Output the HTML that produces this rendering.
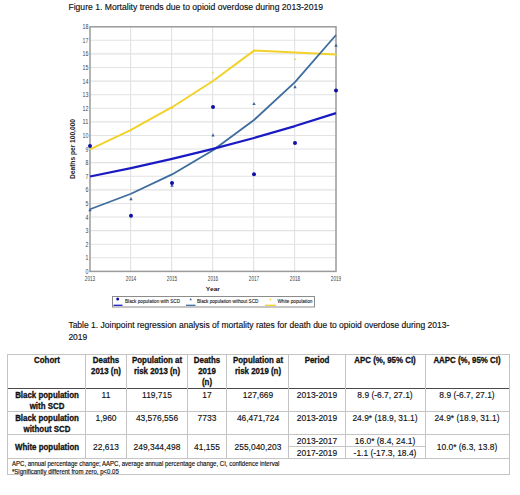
<!DOCTYPE html>
<html><head><meta charset="utf-8"><style>
html,body{margin:0;padding:0;background:#fff;}
body{width:520px;height:495px;position:relative;overflow:hidden;font-family:"Liberation Sans",sans-serif;color:#111;-webkit-text-stroke:0.15px #111;}
svg{position:absolute;left:0;top:0;}
svg text{font-family:"Liberation Sans",sans-serif;}
.tk{font-size:7px;fill:#444;}
.ax{font-size:6.1px;font-weight:bold;fill:#222;}
.ax2{font-size:6.3px;font-weight:bold;fill:#222;}
.lg{font-size:5.8px;fill:#222;stroke:#222;stroke-width:0.12px;}
.cap{position:absolute;font-size:8.5px;white-space:nowrap;line-height:11.7px;}
.b{position:absolute;}
.t{position:absolute;width:120px;text-align:center;line-height:12px;height:12px;white-space:nowrap;font-size:8.9px;transform:scaleX(0.95);}
.bd{font-weight:bold;font-size:8.5px;-webkit-text-stroke:0.3px #111;transform:scaleX(0.93);}
.ft{position:absolute;left:12.2px;font-size:6.7px;white-space:nowrap;line-height:8px;transform:scaleX(0.9);transform-origin:0 50%;}
</style></head><body>
<div class="cap" style="left:68.4px;top:2.0px;font-size:8.62px">Figure 1. Mortality trends due to opioid overdose during 2013-2019</div>
<svg width="520" height="312" viewBox="0 0 520 312">
<line x1="90" y1="257.81" x2="336" y2="257.81" stroke="#e2e2e2" stroke-width="1.1"/>
<line x1="90" y1="244.21" x2="336" y2="244.21" stroke="#e2e2e2" stroke-width="1.1"/>
<line x1="90" y1="230.62" x2="336" y2="230.62" stroke="#e2e2e2" stroke-width="1.1"/>
<line x1="90" y1="217.02" x2="336" y2="217.02" stroke="#e2e2e2" stroke-width="1.1"/>
<line x1="90" y1="203.43" x2="336" y2="203.43" stroke="#e2e2e2" stroke-width="1.1"/>
<line x1="90" y1="189.84" x2="336" y2="189.84" stroke="#e2e2e2" stroke-width="1.1"/>
<line x1="90" y1="176.24" x2="336" y2="176.24" stroke="#e2e2e2" stroke-width="1.1"/>
<line x1="90" y1="162.65" x2="336" y2="162.65" stroke="#e2e2e2" stroke-width="1.1"/>
<line x1="90" y1="149.05" x2="336" y2="149.05" stroke="#e2e2e2" stroke-width="1.1"/>
<line x1="90" y1="135.46" x2="336" y2="135.46" stroke="#e2e2e2" stroke-width="1.1"/>
<line x1="90" y1="121.87" x2="336" y2="121.87" stroke="#e2e2e2" stroke-width="1.1"/>
<line x1="90" y1="108.27" x2="336" y2="108.27" stroke="#e2e2e2" stroke-width="1.1"/>
<line x1="90" y1="94.68" x2="336" y2="94.68" stroke="#e2e2e2" stroke-width="1.1"/>
<line x1="90" y1="81.08" x2="336" y2="81.08" stroke="#e2e2e2" stroke-width="1.1"/>
<line x1="90" y1="67.49" x2="336" y2="67.49" stroke="#e2e2e2" stroke-width="1.1"/>
<line x1="90" y1="53.90" x2="336" y2="53.90" stroke="#e2e2e2" stroke-width="1.1"/>
<line x1="90" y1="40.30" x2="336" y2="40.30" stroke="#e2e2e2" stroke-width="1.1"/>
<line x1="130.6" y1="26.5" x2="130.6" y2="271" stroke="#e2e2e2" stroke-width="1.1"/>
<line x1="171.6" y1="26.5" x2="171.6" y2="271" stroke="#e2e2e2" stroke-width="1.1"/>
<line x1="212.6" y1="26.5" x2="212.6" y2="271" stroke="#e2e2e2" stroke-width="1.1"/>
<line x1="253.6" y1="26.5" x2="253.6" y2="271" stroke="#e2e2e2" stroke-width="1.1"/>
<line x1="294.6" y1="26.5" x2="294.6" y2="271" stroke="#e2e2e2" stroke-width="1.1"/>
<rect x="90" y="26.8" width="246" height="244.6" fill="none" stroke="#9a9a9a" stroke-width="1.5"/>
<text x="85.6" y="273.9" textLength="2.9" lengthAdjust="spacingAndGlyphs" class="tk">0</text>
<text x="85.6" y="260.3" textLength="2.9" lengthAdjust="spacingAndGlyphs" class="tk">1</text>
<text x="85.6" y="246.7" textLength="2.9" lengthAdjust="spacingAndGlyphs" class="tk">2</text>
<text x="85.6" y="233.1" textLength="2.9" lengthAdjust="spacingAndGlyphs" class="tk">3</text>
<text x="85.6" y="219.5" textLength="2.9" lengthAdjust="spacingAndGlyphs" class="tk">4</text>
<text x="85.6" y="205.9" textLength="2.9" lengthAdjust="spacingAndGlyphs" class="tk">5</text>
<text x="85.6" y="192.3" textLength="2.9" lengthAdjust="spacingAndGlyphs" class="tk">6</text>
<text x="85.6" y="178.7" textLength="2.9" lengthAdjust="spacingAndGlyphs" class="tk">7</text>
<text x="85.6" y="165.1" textLength="2.9" lengthAdjust="spacingAndGlyphs" class="tk">8</text>
<text x="85.6" y="151.6" textLength="2.9" lengthAdjust="spacingAndGlyphs" class="tk">9</text>
<text x="82.6" y="138.0" textLength="5.9" lengthAdjust="spacingAndGlyphs" class="tk">10</text>
<text x="82.6" y="124.4" textLength="5.9" lengthAdjust="spacingAndGlyphs" class="tk">11</text>
<text x="82.6" y="110.8" textLength="5.9" lengthAdjust="spacingAndGlyphs" class="tk">12</text>
<text x="82.6" y="97.2" textLength="5.9" lengthAdjust="spacingAndGlyphs" class="tk">13</text>
<text x="82.6" y="83.6" textLength="5.9" lengthAdjust="spacingAndGlyphs" class="tk">14</text>
<text x="82.6" y="70.0" textLength="5.9" lengthAdjust="spacingAndGlyphs" class="tk">15</text>
<text x="82.6" y="56.4" textLength="5.9" lengthAdjust="spacingAndGlyphs" class="tk">16</text>
<text x="82.6" y="42.8" textLength="5.9" lengthAdjust="spacingAndGlyphs" class="tk">17</text>
<text x="82.6" y="29.2" textLength="5.9" lengthAdjust="spacingAndGlyphs" class="tk">18</text>
<text x="84.8" y="281" textLength="10.4" lengthAdjust="spacingAndGlyphs" class="tk">2013</text>
<text x="125.8" y="281" textLength="10.4" lengthAdjust="spacingAndGlyphs" class="tk">2014</text>
<text x="166.8" y="281" textLength="10.4" lengthAdjust="spacingAndGlyphs" class="tk">2015</text>
<text x="207.8" y="281" textLength="10.4" lengthAdjust="spacingAndGlyphs" class="tk">2016</text>
<text x="248.8" y="281" textLength="10.4" lengthAdjust="spacingAndGlyphs" class="tk">2017</text>
<text x="289.8" y="281" textLength="10.4" lengthAdjust="spacingAndGlyphs" class="tk">2018</text>
<text x="330.8" y="281" textLength="10.4" lengthAdjust="spacingAndGlyphs" class="tk">2019</text>
<path d="M90,147.45 L91.17,149.66 L88.83,149.66 Z" fill="#d6d84a"/>
<path d="M131,129.10 L132.17,131.31 L129.83,131.31 Z" fill="#d6d84a"/>
<path d="M172,106.67 L173.17,108.88 L170.83,108.88 Z" fill="#d6d84a"/>
<path d="M213,71.33 L214.17,73.54 L211.83,73.54 Z" fill="#d6d84a"/>
<path d="M254,49.58 L255.17,51.79 L252.83,51.79 Z" fill="#d6d84a"/>
<path d="M295,57.73 L296.17,59.94 L293.83,59.94 Z" fill="#d6d84a"/>
<path d="M336,53.66 L337.17,55.87 L334.83,55.87 Z" fill="#d6d84a"/>
<path d="M90,207.93 L91.71,211.16 L88.29,211.16 Z" fill="#41649a"/>
<path d="M131,197.05 L132.71,200.28 L129.29,200.28 Z" fill="#41649a"/>
<path d="M172,183.46 L173.71,186.69 L170.29,186.69 Z" fill="#41649a"/>
<path d="M213,133.16 L214.71,136.39 L211.29,136.39 Z" fill="#41649a"/>
<path d="M254,101.89 L255.71,105.12 L252.29,105.12 Z" fill="#41649a"/>
<path d="M295,84.90 L296.71,88.13 L293.29,88.13 Z" fill="#41649a"/>
<path d="M336,43.44 L337.71,46.67 L334.29,46.67 Z" fill="#41649a"/>
<path d="M90,149.33 L131,129.83 L172,107.22 L213,81.00 L254,50.60 L295,52.50 L336,54.38" fill="none" stroke="#f2d22a" stroke-width="2.0" stroke-linejoin="round"/>
<path d="M90,209.28 L131,193.78 L172,174.41 L213,150.21 L254,119.97 L295,82.19 L336,34.98" fill="none" stroke="#3d6c9e" stroke-width="1.8" stroke-linejoin="round"/>
<path d="M90,176.51 L131,168.07 L172,158.87 L213,148.86 L254,137.95 L295,126.07 L336,113.14" fill="none" stroke="#1a1ac2" stroke-width="2.2" stroke-linejoin="round"/>
<circle cx="90" cy="146.06" r="2.0" fill="#1010a8"/>
<circle cx="131" cy="215.66" r="2.0" fill="#1010a8"/>
<circle cx="172" cy="183.04" r="2.0" fill="#1010a8"/>
<circle cx="213" cy="106.91" r="2.0" fill="#1010a8"/>
<circle cx="254" cy="174.20" r="2.0" fill="#1010a8"/>
<circle cx="295" cy="142.94" r="2.0" fill="#1010a8"/>
<circle cx="336" cy="90.60" r="2.0" fill="#1010a8"/>
<text x="205.8" y="290.6" textLength="14.2" lengthAdjust="spacingAndGlyphs" class="ax">Year</text>
<text transform="translate(75.2,149) rotate(-90)" textLength="60" lengthAdjust="spacingAndGlyphs" x="-30" class="ax2">Deaths per 100,000</text>
<rect x="112.5" y="296.5" width="202" height="10.5" fill="#fff" stroke="#8c8c8c" stroke-width="1"/>
<circle cx="117.7" cy="299" r="1.5" fill="#1010a8"/><line x1="113.5" y1="305.3" x2="122.5" y2="305.3" stroke="#1c1cc4" stroke-width="1.3"/>
<text x="125" y="303.3" textLength="55" lengthAdjust="spacingAndGlyphs" class="lg">Black population with SCD</text>
<path d="M190.7,297.90 L191.96,300.28 L189.44,300.28 Z" fill="#41649a"/>
<line x1="186" y1="305.3" x2="195.5" y2="305.3" stroke="#3f6fa5" stroke-width="1.3"/>
<text x="197" y="303.3" textLength="61.4" lengthAdjust="spacingAndGlyphs" class="lg">Black population without SCD</text>
<path d="M270.4,298.10 L271.48,300.14 L269.32,300.14 Z" fill="#f2d33a"/>
<line x1="265" y1="305.3" x2="276" y2="305.3" stroke="#f0d02c" stroke-width="1.3"/>
<text x="277.4" y="303.3" textLength="35" lengthAdjust="spacingAndGlyphs" class="lg">White population</text>
</svg>
<div class="cap" style="left:68.4px;top:319.8px">Table 1. Joinpoint regression analysis of mortality rates for death due to opioid overdose during 2013-<br>2019</div>
<div class="b" style="left:7px;top:354px;width:503px;height:1px;background:#c4c4c4"></div><div class="b" style="left:7.5px;top:387.90000000000003px;width:502.1px;height:1.4px;background:#4a4a4a"></div><div class="b" style="left:7px;top:411px;width:503px;height:1px;background:#c4c4c4"></div><div class="b" style="left:7px;top:434px;width:503px;height:1px;background:#c4c4c4"></div><div class="b" style="left:7px;top:458px;width:503px;height:1px;background:#c4c4c4"></div><div class="b" style="left:7px;top:474px;width:503px;height:1px;background:#c4c4c4"></div><div class="b" style="left:288px;top:446px;width:138px;height:1px;background:#c4c4c4"></div><div class="b" style="left:7px;top:354px;width:1px;height:120px;background:#c4c4c4"></div><div class="b" style="left:85px;top:354px;width:1px;height:104px;background:#c4c4c4"></div><div class="b" style="left:126px;top:354px;width:1px;height:104px;background:#c4c4c4"></div><div class="b" style="left:187px;top:354px;width:1px;height:104px;background:#c4c4c4"></div><div class="b" style="left:226px;top:354px;width:1px;height:104px;background:#c4c4c4"></div><div class="b" style="left:288px;top:354px;width:1px;height:104px;background:#c4c4c4"></div><div class="b" style="left:345px;top:354px;width:1px;height:104px;background:#c4c4c4"></div><div class="b" style="left:425px;top:354px;width:1px;height:104px;background:#c4c4c4"></div><div class="b" style="left:509px;top:354px;width:1px;height:120px;background:#c4c4c4"></div>
<div class="t bd" style="left:-13.5px;top:354.2px">Cohort</div><div class="t bd" style="left:45.75px;top:354.2px">Deaths</div><div class="t bd" style="left:45.75px;top:365.3px">2013 (n)</div><div class="t bd" style="left:96.69999999999999px;top:354.2px">Population at</div><div class="t bd" style="left:96.69999999999999px;top:365.3px">risk 2013 (n)</div><div class="t bd" style="left:147.2px;top:354.2px">Deaths</div><div class="t bd" style="left:147.2px;top:365.3px">2019</div><div class="t bd" style="left:147.2px;top:376.4px">(n)</div><div class="t bd" style="left:197.75px;top:354.2px">Population at</div><div class="t bd" style="left:197.75px;top:365.3px">risk 2019 (n)</div><div class="t bd" style="left:256.95px;top:354.2px">Period</div><div class="t bd" style="left:325.25px;top:354.2px">APC (%, 95% CI)</div><div class="t bd" style="left:407.35px;top:354.2px">AAPC (%, 95% CI)</div><div class="t bd" style="left:-13.5px;top:389.2px">Black population</div><div class="t bd" style="left:-13.5px;top:400.4px">with SCD</div><div class="t bd" style="left:-13.5px;top:412.1px">Black population</div><div class="t bd" style="left:-13.5px;top:423.3px">without SCD</div><div class="t bd" style="left:-13.5px;top:440.8px">White population</div><div class="t r" style="left:45.75px;top:389.3px">11</div><div class="t r" style="left:96.69999999999999px;top:389.3px">119,715</div><div class="t r" style="left:147.2px;top:389.3px">17</div><div class="t r" style="left:197.75px;top:389.3px">127,669</div><div class="t r" style="left:256.95px;top:389.3px">2013-2019</div><div class="t r" style="left:325.25px;top:389.3px">8.9 (-6.7, 27.1)</div><div class="t r" style="left:407.35px;top:389.3px">8.9 (-6.7, 27.1)</div><div class="t r" style="left:45.75px;top:412.0px">1,960</div><div class="t r" style="left:96.69999999999999px;top:412.0px">43,576,556</div><div class="t r" style="left:147.2px;top:412.0px">7733</div><div class="t r" style="left:197.75px;top:412.0px">46,471,724</div><div class="t r" style="left:256.95px;top:412.0px">2013-2019</div><div class="t r" style="left:325.25px;top:412.0px">24.9* (18.9, 31.1)</div><div class="t r" style="left:407.35px;top:412.0px">24.9* (18.9, 31.1)</div><div class="t r" style="left:45.75px;top:441.0px">22,613</div><div class="t r" style="left:96.69999999999999px;top:441.0px">249,344,498</div><div class="t r" style="left:147.2px;top:441.0px">41,155</div><div class="t r" style="left:197.75px;top:441.0px">255,040,203</div><div class="t r" style="left:256.95px;top:434.9px">2013-2017</div><div class="t r" style="left:256.95px;top:447.0px">2017-2019</div><div class="t r" style="left:325.25px;top:434.9px">16.0* (8.4, 24.1)</div><div class="t r" style="left:325.25px;top:447.0px">-1.1 (-17.3, 18.4)</div><div class="t r" style="left:407.35px;top:441.0px">10.0* (6.3, 13.8)</div>
<div class="ft" style="top:459.5px">APC, annual percentage change; AAPC, average annual percentage change, CI, confidence interval</div>
<div class="ft" style="top:467.5px">*Significantly different from zero, p&lt;0.05</div>
</body></html>
